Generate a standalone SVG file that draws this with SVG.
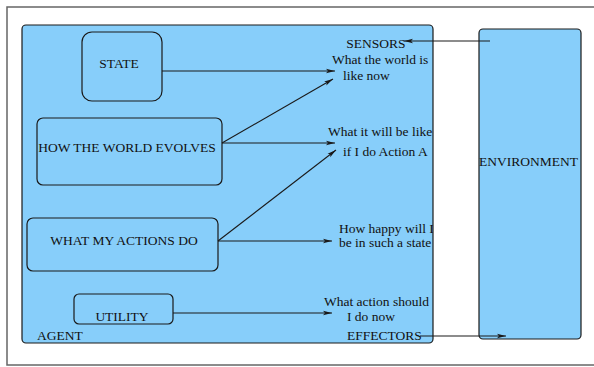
<svg xmlns="http://www.w3.org/2000/svg" width="594" height="367" viewBox="0 0 594 367">
<style>
.box{fill:#87cefa;stroke:#1a1a1a;stroke-width:1.2}
.t{font-family:"Liberation Serif","Times New Roman",serif;font-size:13.5px;fill:#111}
.c{stroke:#1a1a1a;stroke-width:1.1;fill:none}
</style>
<defs>
<marker id="ah" markerWidth="10" markerHeight="6" refX="9" refY="3" orient="auto" markerUnits="userSpaceOnUse">
<path d="M0,0.8 L9,3 L0,5.2 L2,3 Z" fill="#1a1a1a"/>
</marker>
<clipPath id="agentclip"><rect x="22" y="25" width="411" height="318"/></clipPath>
</defs>
<rect x="7" y="7" width="600" height="358" fill="#fff" stroke="#666" stroke-width="1.5"/>
<g id="agent">
<rect class="box" x="22" y="25" width="411" height="318" rx="4" stroke="#000"/>
<text class="t" x="37" y="340">AGENT</text>
</g>
<g id="environment">
<rect class="box" x="479" y="29" width="102" height="310" rx="4" stroke="#444"/>
<text class="t" x="479" y="166">ENVIRONMENT</text>
</g>
<g id="state">
<rect class="box" x="82" y="32" width="80" height="69" rx="10"/>
<text class="t" x="119" y="68" text-anchor="middle">STATE</text>
</g>
<g id="how-world-evolves">
<rect class="box" x="37" y="118" width="185" height="67" rx="6"/>
<text class="t" x="127" y="152" text-anchor="middle">HOW THE WORLD EVOLVES</text>
</g>
<g id="what-my-actions-do">
<rect class="box" x="27" y="218" width="191" height="53" rx="6"/>
<text class="t" x="124" y="245" text-anchor="middle">WHAT MY ACTIONS DO</text>
</g>
<g id="utility">
<rect class="box" x="74" y="294" width="99" height="30" rx="5"/>
<text class="t" x="122" y="321" text-anchor="middle">UTILITY</text>
</g>
<g id="labels" clip-path="url(#agentclip)">
<text class="t" x="376" y="48" text-anchor="middle">SENSORS</text>
<text class="t" x="332" y="64">What the world is</text>
<text class="t" x="343" y="80">like now</text>
<text class="t" x="328" y="136">What it will be like</text>
<text class="t" x="343" y="156">if I do Action A</text>
<text class="t" x="339" y="233">How happy will I</text>
<text class="t" x="339" y="247">be in such a state</text>
<text class="t" x="324" y="306">What action should</text>
<text class="t" x="347" y="321">I do now</text>
<text class="t" x="347" y="340">EFFECTORS</text>
</g>
<g id="connectors">
<line class="c" x1="162" y1="71" x2="335" y2="71" marker-end="url(#ah)"/>
<line class="c" x1="222" y1="143" x2="333" y2="79" marker-end="url(#ah)"/>
<line class="c" x1="222" y1="143" x2="335" y2="143" marker-end="url(#ah)"/>
<line class="c" x1="218" y1="241" x2="336" y2="150" marker-end="url(#ah)"/>
<line class="c" x1="218" y1="241" x2="332" y2="241" marker-end="url(#ah)"/>
<line class="c" x1="173" y1="313" x2="332" y2="313" marker-end="url(#ah)"/>
<line class="c" x1="490" y1="41" x2="404" y2="41" marker-end="url(#ah)" stroke="#444"/>
<line class="c" x1="420" y1="336" x2="506" y2="336" marker-end="url(#ah)" stroke="#444"/>
</g>
</svg>
